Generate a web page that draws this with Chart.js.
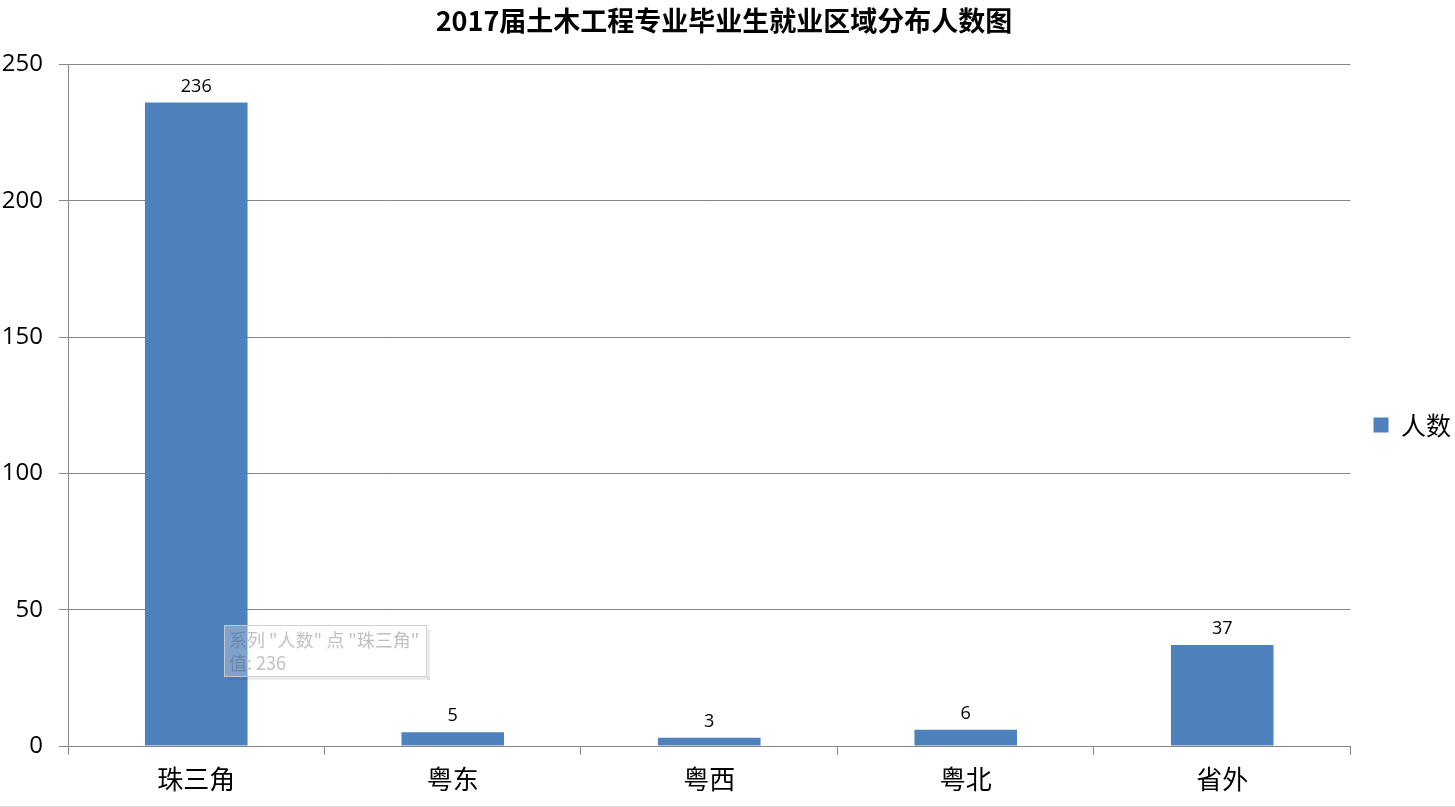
<!DOCTYPE html>
<html>
<head>
<meta charset="utf-8">
<script src="https://cdn.jsdelivr.net/npm/chart.js@4"></script>
<style>
  html, body { margin: 0; padding: 0; background: #fff; }
  #wrap { width: 1455px; height: 806px; border-bottom: 1px solid #dcdcdc; }
</style>
</head>
<body>
<div id="wrap"><canvas id="c" width="1455" height="806"></canvas></div>
<script>
const categories = ['珠三角', '粤东', '粤西', '粤北', '省外'];
const counts = [236, 5, 3, 6, 37];
const seriesName = '人数';
const yTicks = [0, 50, 100, 150, 200, 250];
const titleText = '2017届土木工程专业毕业生就业区域分布人数图';

const BAR = '#4F81BD';
const GRID = '#878787';
const CJK = '"Noto Sans CJK SC", "Noto Sans", sans-serif';
const LATIN = '"Open Sans", "Noto Sans", "Liberation Sans", sans-serif';

// value labels above each bar
const valueLabels = {
  id: 'valueLabels',
  afterDatasetsDraw(chart) {
    const ctx = chart.ctx;
    const meta = chart.getDatasetMeta(0);
    ctx.save();
    ctx.font = '18px ' + LATIN;
    ctx.fillStyle = '#000';
    ctx.textAlign = 'center';
    ctx.textBaseline = 'bottom';
    meta.data.forEach((bar, i) => {
      ctx.fillText(String(counts[i]), bar.x, bar.y - 7);
    });
    ctx.restore();
  }
};

// legend sits a little right of the plot and slightly below its middle
const legendPlace = {
  id: 'legendPlace',
  afterLayout(chart) {
    const lg = chart.legend;
    if (!lg) return;
    const pad = lg.options.labels.padding;
    const dx = chart.chartArea.right + 23 - pad - lg.left;
    lg.left += dx; lg.right += dx;
    lg.top += 22; lg.bottom += 22;
  }
};

// faded hover note left over on the first bar
const hoverNote = {
  id: 'hoverNote',
  afterDraw(chart) {
    const ctx = chart.ctx;
    const bar = chart.getDatasetMeta(0).data[0];
    const x = Math.round(bar.x + 28), y = Math.round(chart.chartArea.bottom - 121);
    const w = 202, h = 51;
    ctx.save();
    // soft drop shadow on the right and bottom edges
    ctx.fillStyle = 'rgba(0,0,0,0.07)';
    ctx.fillRect(x + w + 1, y + 4, 3, h);
    ctx.fillRect(x + 4, y + h + 1, w, 3);
    ctx.fillStyle = 'rgba(255,255,255,0.27)';
    ctx.fillRect(x, y, w, h);
    ctx.strokeStyle = 'rgba(205,205,205,0.9)';
    ctx.lineWidth = 1;
    ctx.strokeRect(x + 0.5, y + 0.5, w, h);
    ctx.font = '18px ' + CJK;
    ctx.fillStyle = 'rgba(80,80,80,0.36)';
    ctx.textAlign = 'left';
    ctx.textBaseline = 'middle';
    ctx.fillText('系列 "' + seriesName + '" 点 "' + categories[0] + '"', x + 5, y + 15);
    ctx.fillText('值: ' + counts[0], x + 5, y + 38);
    ctx.restore();
  }
};

new Chart(document.getElementById('c'), {
  type: 'bar',
  data: {
    labels: categories,
    datasets: [{
      label: seriesName,
      data: counts,
      backgroundColor: BAR,
      borderWidth: 0,
      categoryPercentage: 1,
      barPercentage: 0.4
    }]
  },
  options: {
    responsive: false,
    animation: false,
    events: [],
    layout: { padding: { left: 0, right: 7, top: 0, bottom: 0 } },
    plugins: {
      title: {
        display: true,
        text: titleText,
        color: '#000',
        font: { family: CJK, size: 27, weight: 'bold' },
        padding: { top: 5, bottom: 27 }
      },
      legend: {
        position: 'right',
        maxWidth: 105,
        labels: {
          boxWidth: 15,
          boxHeight: 15,
          padding: 10,
          color: '#000',
          font: { family: CJK, size: 25 }
        }
      },
      tooltip: { enabled: false }
    },
    scales: {
      x: {
        offset: true,
        grid: {
          offset: true,
          drawOnChartArea: false,
          drawTicks: true,
          tickLength: 9,
          color: GRID
        },
        border: { color: GRID },
        ticks: {
          color: '#000',
          padding: 9,
          font: { family: CJK, size: 26 }
        },
        afterFit(scale) { scale.height = 60; }
      },
      y: {
        min: 0,
        max: 250,
        afterBuildTicks(scale) { scale.ticks = yTicks.map(v => ({ value: v })); },
        grid: { color: GRID, tickLength: 9 },
        border: { color: GRID },
        ticks: {
          color: '#000',
          padding: 16,
          font: { family: LATIN, size: 24 }
        },
        afterFit(scale) { scale.width = 68; }
      }
    }
  },
  plugins: [valueLabels, hoverNote, legendPlace]
});
</script>
</body>
</html>
